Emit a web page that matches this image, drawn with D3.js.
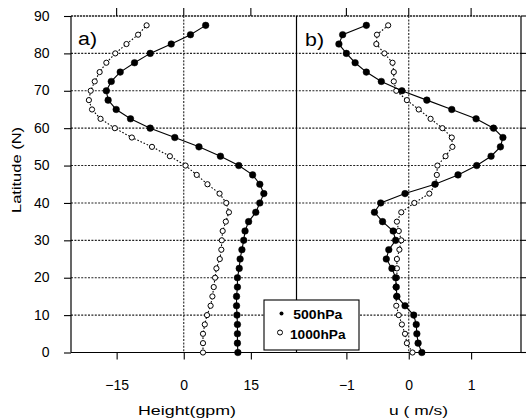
<!DOCTYPE html>
<html>
<head>
<meta charset="utf-8">
<title>Height and u profiles</title>
<script src="https://d3js.org/d3.v7.min.js"></script>
<style>
  body { margin: 0; background: #fff; }
  svg { display: block; font-family: "Liberation Sans", Arial, sans-serif; }
  .grid { stroke: #222; stroke-width: 1.1; stroke-dasharray: 2,1.4; }
</style>
</head>
<body>
<svg id="chart" width="526" height="420"></svg>
<script>
// latitude of every profile point (N)
let lats = [0, 2.5, 5, 7.5, 10, 12.5, 15, 17.5, 20, 22.5, 25, 27.5, 30, 32.5, 35, 37.5, 40, 42.5,
            45, 47.5, 50, 52.5, 55, 57.5, 60, 62.5, 65, 67.5, 70, 72.5, 75, 77.5, 80, 82.5, 85, 87.5];

// a) height anomaly (gpm)
let height500 = [12.1, 12.0, 12.0, 12.0, 11.9, 11.8, 11.8, 12.0, 12.0, 12.4, 12.6, 13.0, 13.4, 13.7, 14.5, 16.1, 17.0, 17.9,
                 17.0, 15.4, 12.3, 8.2, 3.4, -2.0, -7.5, -11.9, -15.1, -16.9, -17.3, -16.2, -14.2, -11.0, -7.5, -2.8, 1.5, 4.9];
let height1000 = [4.3, 4.3, 4.3, 4.7, 5.2, 6.0, 6.4, 6.7, 7.0, 7.3, 8.05, 8.4, 8.5, 8.7, 9.4, 10.1, 9.5, 8.0,
                  5.3, 2.9, 0.4, -3.1, -7.1, -11.6, -15.4, -18.6, -20.5, -21.2, -20.8, -19.9, -18.8, -17.3, -15.3, -12.8, -10.2, -8.3];

// b) zonal wind (m/s)
let u500 = [0.21, 0.15, 0.13, 0.12, 0.08, -0.06, -0.19, -0.2, -0.21, -0.27, -0.36, -0.32, -0.21, -0.25, -0.42, -0.55, -0.45, -0.06,
            0.42, 0.79, 1.09, 1.32, 1.47, 1.51, 1.36, 1.08, 0.69, 0.29, -0.11, -0.44, -0.68, -0.86, -1.0, -1.12, -1.06, -0.68];
let u1000 = [0.06, -0.03, -0.06, -0.11, -0.16, -0.2, -0.2, -0.21, -0.19, -0.19, -0.19, -0.15, -0.12, -0.16, -0.19, -0.12, 0.09, 0.33,
             0.43, 0.45, 0.46, 0.59, 0.70, 0.69, 0.54, 0.35, 0.16, -0.03, -0.2, -0.24, -0.24, -0.26, -0.39, -0.52, -0.51, -0.33];

let latTicks = [0, 10, 20, 30, 40, 50, 60, 70, 80, 90];
let heightTicks = [-15, 0, 15];
let uTicks = [-1, 0, 1];
let seriesNames = ["500hPa", "1000hPa"];

let svg = d3.select("#chart");

let plotLeft = 71, plotMid = 296.5, plotRight = 521, plotTop = 16, plotBottom = 352.5;

let y = d3.scaleLinear().domain([0, 90]).range([plotBottom, plotTop]);
let xa = d3.scaleLinear().domain([-25.2, 25.2]).range([plotLeft, plotMid]);
let xb = d3.scaleLinear().domain([-1.8, 1.8]).range([plotMid, plotRight]);

// horizontal grid
svg.append("g").selectAll("line")
    .data(latTicks.filter(d => d > 0 && d < 90))
    .enter().append("line")
    .attr("class", "grid")
    .attr("x1", plotLeft).attr("x2", plotRight)
    .attr("y1", d => y(d)).attr("y2", d => y(d));

// zero lines
[xa, xb].forEach(function(x) {
    svg.append("line").attr("class", "grid")
        .attr("x1", x(0)).attr("x2", x(0))
        .attr("y1", plotTop).attr("y2", plotBottom);
});

// frame
svg.append("line").attr("x1", plotLeft).attr("x2", plotRight).attr("y1", plotTop).attr("y2", plotTop)
    .attr("stroke", "#222").attr("stroke-width", 1.6).attr("stroke-dasharray", "2.2,0.8");
svg.append("line").attr("x1", plotLeft).attr("x2", plotRight).attr("y1", plotBottom).attr("y2", plotBottom)
    .attr("stroke", "#000").attr("stroke-width", 1.2);
[plotLeft, plotMid, plotRight].forEach(function(xx) {
    svg.append("line").attr("x1", xx).attr("x2", xx).attr("y1", plotTop).attr("y2", plotBottom)
        .attr("stroke", "#000").attr("stroke-width", 1.2);
});

// y axis (left) and small ticks on the right side
let yAxis = svg.append("g")
    .attr("transform", "translate(" + plotLeft + ",0)")
    .call(d3.axisLeft(y).tickValues(latTicks).tickSize(7).tickPadding(14.5).tickFormat(d3.format("d")));
yAxis.select(".domain").remove();
yAxis.selectAll("line").attr("stroke", "#000").attr("stroke-width", 1.1);
yAxis.selectAll("text").attr("font-size", 14).attr("fill", "#000").attr("dy", "0.3em")
    .attr("font-family", "Liberation Sans, Arial, sans-serif");

svg.append("g").selectAll("line")
    .data(latTicks)
    .enter().append("line")
    .attr("x1", plotRight).attr("x2", plotRight + 5)
    .attr("y1", d => y(d)).attr("y2", d => y(d))
    .attr("stroke", "#000").attr("stroke-width", 1.1);

// x axes, bottom and top ticks
function drawX(x, ticks) {
    let g = svg.append("g")
        .attr("transform", "translate(0," + plotBottom + ")")
        .call(d3.axisBottom(x).tickValues(ticks).tickSize(7).tickPadding(21).tickFormat(d3.format("d")));
    g.select(".domain").remove();
    g.selectAll("line").attr("stroke", "#000").attr("stroke-width", 1.1);
    g.selectAll("text").attr("font-size", 14).attr("fill", "#000")
        .attr("font-family", "Liberation Sans, Arial, sans-serif");

    svg.append("g").selectAll("line")
        .data(ticks)
        .enter().append("line")
        .attr("x1", d => x(d)).attr("x2", d => x(d))
        .attr("y1", plotTop).attr("y2", plotTop - 8)
        .attr("stroke", "#000").attr("stroke-width", 1.1);
}
drawX(xa, heightTicks);
drawX(xb, uTicks);

// profiles
function drawProfile(x, values, filled) {
    let pts = lats.map((lat, i) => ({lat: lat, v: values[i]}));
    let line = d3.line().x(d => x(d.v)).y(d => y(d.lat));

    svg.append("path")
        .datum(pts)
        .attr("d", line)
        .attr("fill", "none")
        .attr("stroke", "#000")
        .attr("stroke-width", 1.1)
        .attr("stroke-dasharray", filled ? null : "1.6,1.8");

    svg.append("g").selectAll("circle")
        .data(pts)
        .enter().append("circle")
        .attr("cx", d => x(d.v))
        .attr("cy", d => y(d.lat))
        .attr("r", filled ? 3.3 : 2.6)
        .attr("fill", filled ? "#000" : "#fff")
        .attr("stroke", "#000")
        .attr("stroke-width", filled ? 0.5 : 1);
}
drawProfile(xa, height1000, false);
drawProfile(xa, height500, true);
drawProfile(xb, u1000, false);
drawProfile(xb, u500, true);

// panel labels
svg.append("text").attr("x", 78).attr("y", 45).attr("font-size", 18)
    .attr("textLength", 19).attr("lengthAdjust", "spacingAndGlyphs").text("a)");
svg.append("text").attr("x", 305).attr("y", 46).attr("font-size", 18)
    .attr("textLength", 19).attr("lengthAdjust", "spacingAndGlyphs").text("b)");

// axis titles
svg.append("text").attr("x", 187).attr("y", 415).attr("font-size", 13)
    .attr("text-anchor", "middle")
    .attr("textLength", 98).attr("lengthAdjust", "spacingAndGlyphs")
    .text("Height(gpm)");
svg.append("text").attr("x", 418.5).attr("y", 415).attr("font-size", 13)
    .attr("text-anchor", "middle")
    .attr("textLength", 59).attr("lengthAdjust", "spacingAndGlyphs")
    .text("u ( m/s)");
svg.append("text")
    .attr("transform", "translate(21,170) rotate(-90)")
    .attr("font-size", 13)
    .attr("text-anchor", "middle")
    .attr("textLength", 86).attr("lengthAdjust", "spacingAndGlyphs")
    .text("Latitude (N)");

// legend
let legend = svg.append("g");
legend.append("rect")
    .attr("x", 264).attr("y", 300).attr("width", 95).attr("height", 50)
    .attr("fill", "#fff").attr("stroke", "#000").attr("stroke-width", 1.1);
legend.append("circle").attr("cx", 281.5).attr("cy", 313.5).attr("r", 2).attr("fill", "#000");
legend.append("circle").attr("cx", 280).attr("cy", 332.5).attr("r", 2.5)
    .attr("fill", "#fff").attr("stroke", "#000").attr("stroke-width", 1);
legend.append("text").attr("x", 293.3).attr("y", 318.5)
    .attr("font-size", 12).attr("font-weight", "bold")
    .attr("textLength", 49).attr("lengthAdjust", "spacingAndGlyphs")
    .text(seriesNames[0]);
legend.append("text").attr("x", 290).attr("y", 338.5)
    .attr("font-size", 12).attr("font-weight", "bold")
    .attr("textLength", 55.5).attr("lengthAdjust", "spacingAndGlyphs")
    .text(seriesNames[1]);
</script>
</body>
</html>
